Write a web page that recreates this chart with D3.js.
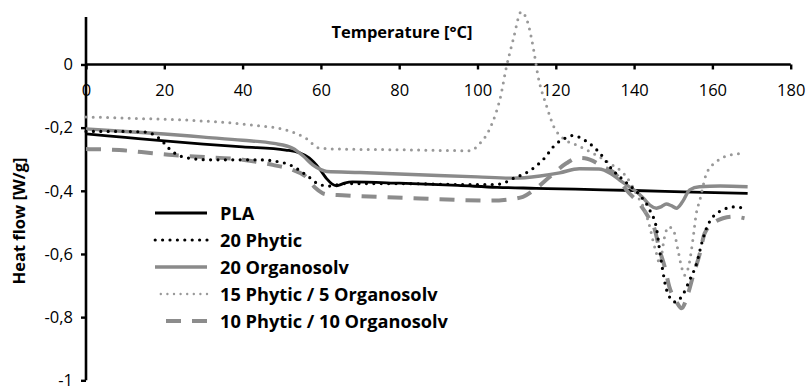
<!DOCTYPE html>
<html>
<head>
<meta charset="utf-8">
<script src="https://cdn.jsdelivr.net/npm/d3@7"></script>
<style>
  html, body { margin: 0; padding: 0; background: #fff; }
  svg { display: block; }
  text { font-family: "Open Sans", Lato, sans-serif; fill: #000; }
</style>
</head>
<body>
<svg id="chart" width="806" height="387"></svg>
<script>
// DSC heat-flow curves, [temperature °C, heat flow W/g]
const seriesNames = ["PLA", "20 Phytic", "20 Organosolv", "15 Phytic / 5 Organosolv", "10 Phytic / 10 Organosolv"];

const pla = [
  [0,-0.220],[10,-0.231],[20,-0.242],[30,-0.252],[40,-0.261],[51,-0.271],[54.4,-0.279],
  [57,-0.296],[59.5,-0.328],[61.5,-0.362],[62.8,-0.378],[64,-0.384],[66,-0.376],[68,-0.372],
  [80,-0.376],[95,-0.383],[105,-0.389],[115,-0.392],[125,-0.395],[140,-0.399],[155,-0.404],[169,-0.408]
];

const phytic20 = [
  [0,-0.212],[8,-0.212],[15.3,-0.214],[18.7,-0.234],[22.1,-0.276],[25.5,-0.295],[32,-0.302],
  [44,-0.302],[51,-0.313],[54.4,-0.334],[57,-0.357],[59.6,-0.380],[62.3,-0.385],[66,-0.377],
  [80,-0.377],[95,-0.380],[104,-0.380],[106.5,-0.377],[108.2,-0.366],[113.4,-0.336],[116.7,-0.302],
  [120.2,-0.250],[122,-0.236],[124.3,-0.225],[127.9,-0.244],[131.2,-0.280],[134.5,-0.334],
  [138.1,-0.375],[141.4,-0.413],[144,-0.461],[145.8,-0.524],[146.5,-0.587],[147.3,-0.651],
  [148.3,-0.714],[150.4,-0.752],[152.4,-0.730],[154.2,-0.682],[156,-0.629],[157.3,-0.565],
  [158.6,-0.515],[160.1,-0.483],[162.6,-0.461],[165.2,-0.451],[167.7,-0.454]
];

const organosolv20 = [
  [0,-0.204],[10,-0.212],[20,-0.220],[30,-0.230],[40,-0.240],[48,-0.250],[52.8,-0.265],
  [55.5,-0.290],[57.9,-0.318],[60,-0.333],[61.5,-0.339],[70,-0.342],[85,-0.349],[100,-0.356],
  [109,-0.360],[116,-0.353],[121,-0.343],[126,-0.330],[131,-0.331],[134,-0.345],[136.3,-0.366],
  [138.5,-0.385],[140.6,-0.403],[142.5,-0.425],[144,-0.445],[145.7,-0.455],[147,-0.450],
  [148.2,-0.442],[149.5,-0.447],[150.8,-0.455],[152.4,-0.434],[154.2,-0.397],[156.7,-0.387],
  [162,-0.385],[169,-0.387]
];

const phytic15org5 = [
  [0,-0.166],[10,-0.170],[25.5,-0.176],[42.5,-0.192],[51,-0.207],[56.2,-0.234],[59.6,-0.265],
  [64.7,-0.268],[80,-0.270],[98,-0.273],[100.6,-0.250],[103,-0.207],[104.8,-0.150],[105.7,-0.112],
  [107.4,-0.007],[109.1,0.078],[111.2,0.167],[112.9,0.130],[114.2,0.056],[115.5,-0.039],
  [117.6,-0.130],[119.5,-0.197],[121.9,-0.234],[125.3,-0.255],[129.5,-0.281],[133.8,-0.313],
  [138,-0.355],[141,-0.419],[142.7,-0.461],[144,-0.514],[144.8,-0.556],[145.7,-0.598],
  [146.5,-0.629],[147.8,-0.545],[148.7,-0.514],[150,-0.524],[151.2,-0.587],[152.1,-0.640],
  [152.9,-0.667],[154.1,-0.629],[155,-0.556],[155.9,-0.471],[156.8,-0.429],[158.5,-0.345],
  [161,-0.308],[164.4,-0.287],[168.2,-0.281]
];

const phytic10org10 = [
  [0,-0.268],[8.5,-0.271],[17,-0.281],[22.1,-0.287],[28.9,-0.292],[40,-0.302],[47.7,-0.318],
  [52.8,-0.334],[56.2,-0.355],[58.7,-0.392],[61.3,-0.411],[65.5,-0.414],[85.3,-0.424],
  [103.1,-0.431],[107.4,-0.428],[111.6,-0.419],[115,-0.392],[118.5,-0.355],[122.7,-0.313],
  [125.5,-0.296],[127.4,-0.297],[132.1,-0.324],[135.5,-0.350],[138,-0.397],[141.3,-0.440],
  [143.6,-0.482],[145.3,-0.524],[146.5,-0.587],[147.8,-0.640],[149,-0.704],[150.8,-0.751],
  [152.1,-0.772],[153.8,-0.725],[155,-0.672],[156.8,-0.598],[158,-0.535],[160.2,-0.503],
  [162.7,-0.487],[165.3,-0.482],[168.2,-0.487]
];

const xTicks = [0, 20, 40, 60, 80, 100, 120, 140, 160, 180];
const yTicks = [0, -0.2, -0.4, -0.6, -0.8, -1];
const yTickLabels = ["0", "-0,2", "-0,4", "-0,6", "-0,8", "-1"];

const seriesData = [pla, phytic20, organosolv20, phytic15org5, phytic10org10];

// line styles per series
const styles = [
  { color: "#000000", width: 2.8, dash: null, cap: "butt" },
  { color: "#000000", width: 3.2, dash: "0 7.4", cap: "round" },
  { color: "#8a8a8a", width: 3.4, dash: null, cap: "butt" },
  { color: "#999999", width: 3.0, dash: "0 7.2", cap: "round" },
  { color: "#8c8c8c", width: 4.0, dash: "15 11", cap: "butt" }
];
const legendDotStyle = { width: 2.4, dash: "0 6.6" };

const svg = d3.select("#chart");

const x = d3.scaleLinear().domain([0, 180]).range([86, 790.7]);
const y = d3.scaleLinear().domain([0.15, -1]).range([17.1, 380.3]);

// x axis sits on the zero line
const xAxis = svg.append("g")
  .attr("transform", `translate(0,${y(0)})`)
  .call(d3.axisBottom(x).tickValues(xTicks).tickSize(5).tickPadding(15).tickFormat(d3.format("d")));
xAxis.select(".domain").attr("stroke", "#000").attr("stroke-width", 2.6).attr("d", `M${x(0)},0H${x(180)}`);
xAxis.selectAll(".tick line").attr("stroke", "#000").attr("stroke-width", 2.4);
xAxis.selectAll(".tick text").attr("font-size", 16.5).attr("font-family", "'Open Sans', sans-serif").attr("fill", "#000");

const yAxis = svg.append("g")
  .attr("transform", `translate(${x(0)},0)`)
  .call(d3.axisLeft(y).tickValues(yTicks).tickSize(5).tickPadding(8)
    .tickFormat((d, i) => yTickLabels[i]));
yAxis.select(".domain").attr("stroke", "#000").attr("stroke-width", 2.6).attr("d", `M0,${y(0.15)}V${y(-1)}`);
yAxis.selectAll(".tick line").attr("stroke", "#000").attr("stroke-width", 2.4);
yAxis.selectAll(".tick text").attr("font-size", 16.5).attr("font-family", "'Open Sans', sans-serif").attr("fill", "#000");

// axis titles
svg.append("text")
  .attr("x", 402).attr("y", 31).attr("text-anchor", "middle").attr("dominant-baseline", "central")
  .attr("font-size", 16.5).attr("font-weight", "bold")
  .text("Temperature [°C]");
svg.append("text")
  .attr("transform", "translate(18,221) rotate(-90)")
  .attr("text-anchor", "middle").attr("dominant-baseline", "central")
  .attr("font-size", 16.5).attr("font-weight", "bold")
  .text("Heat flow [W/g]");

// curves
const line = d3.line().x(d => x(d[0])).y(d => y(d[1])).curve(d3.curveMonotoneX);
const drawOrder = [0, 2, 4, 3, 1];
drawOrder.forEach(i => {
  const s = styles[i];
  svg.append("path")
    .datum(seriesData[i])
    .attr("d", line)
    .attr("fill", "none")
    .attr("stroke", s.color)
    .attr("stroke-width", s.width)
    .attr("stroke-linecap", s.cap)
    .attr("stroke-linejoin", "round")
    .attr("stroke-dasharray", s.dash);
});

// legend
const legend = svg.append("g");
seriesNames.forEach((name, i) => {
  const s = styles[i];
  const ry = 213 + i * 27;
  const isSmallDot = i === 3;
  legend.append("line")
    .attr("x1", 207).attr("x2", 155).attr("y1", ry).attr("y2", ry)
    .attr("stroke", s.color)
    .attr("stroke-width", isSmallDot ? legendDotStyle.width : s.width)
    .attr("stroke-linecap", s.cap)
    .attr("stroke-dasharray", isSmallDot ? legendDotStyle.dash : s.dash);
  legend.append("text")
    .attr("x", 220).attr("y", ry).attr("dominant-baseline", "central")
    .attr("font-size", 18.2).attr("font-weight", "bold")
    .text(name);
});
</script>
</body>
</html>
